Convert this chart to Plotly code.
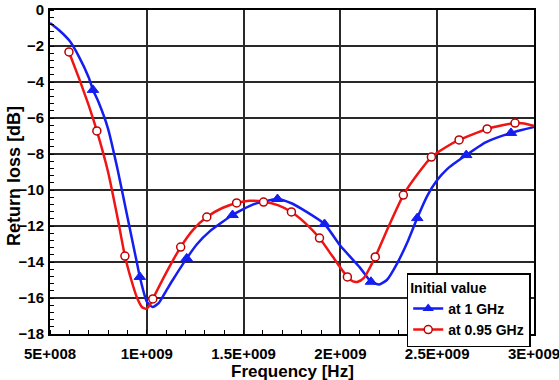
import plotly.graph_objects as go

# Curve samples (frequency in Hz, return loss in dB)
blue_freq = [0.50e9, 0.55e9, 0.60e9, 0.65e9, 0.70e9, 0.722e9, 0.75e9, 0.80e9, 0.85e9, 0.90e9,
             0.95e9, 0.964e9, 1.00e9, 1.03e9, 1.06e9, 1.10e9, 1.134e9, 1.206e9, 1.26e9,
             1.325e9, 1.443e9, 1.55e9, 1.675e9, 1.75e9, 1.80e9, 1.918e9, 2.00e9, 2.10e9,
             2.158e9, 2.20e9, 2.24e9, 2.294e9, 2.35e9, 2.397e9, 2.45e9, 2.50e9, 2.55e9,
             2.65e9, 2.75e9, 2.881e9, 3.0e9]
blue_rl = [-0.72, -1.15, -1.7, -2.6, -3.75, -4.44, -5.1, -6.6, -8.9, -11.5,
           -14.1, -14.83, -16.2, -16.5, -16.3, -15.6, -15.0, -13.8, -13.0,
           -12.3, -11.39, -10.8, -10.5, -10.75, -11.05, -11.89, -13.1, -14.3,
           -15.1, -15.25, -15.0, -14.06, -12.8, -11.56, -10.3, -9.45, -8.85,
           -8.06, -7.35, -6.83, -6.5]

red_freq = [0.598e9, 0.65e9, 0.70e9, 0.742e9, 0.80e9, 0.85e9, 0.887e9, 0.92e9, 0.95e9,
            0.975e9, 0.995e9, 1.015e9, 1.031e9, 1.10e9, 1.175e9, 1.24e9, 1.31e9, 1.39e9,
            1.464e9, 1.53e9, 1.603e9, 1.68e9, 1.747e9, 1.82e9, 1.892e9, 1.96e9, 2.036e9,
            2.065e9, 2.09e9, 2.12e9, 2.18e9, 2.25e9, 2.325e9, 2.40e9, 2.47e9, 2.54e9,
            2.613e9, 2.69e9, 2.758e9, 2.83e9, 2.902e9, 2.95e9, 3.0e9]
red_rl = [-2.33, -3.8, -5.3, -6.72, -9.0, -11.6, -13.67, -15.0, -16.0,
          -16.5, -16.6, -16.4, -16.05, -14.6, -13.17, -12.2, -11.5, -11.0,
          -10.72, -10.6, -10.65, -10.85, -11.22, -11.85, -12.67, -13.7, -14.83,
          -15.08, -15.1, -14.9, -13.72, -12.0, -10.28, -9.1, -8.17, -7.65,
          -7.22, -6.88, -6.61, -6.42, -6.28, -6.3, -6.44]

# Marker positions
blue_mk_freq = [0.722e9, 0.964e9, 1.206e9, 1.443e9, 1.675e9, 1.918e9, 2.158e9, 2.397e9, 2.65e9, 2.881e9]
blue_mk_rl = [-4.44, -14.83, -13.8, -11.39, -10.5, -11.89, -15.1, -11.56, -8.06, -6.83]

red_mk_freq = [0.598e9, 0.742e9, 0.887e9, 1.031e9, 1.175e9, 1.31e9, 1.464e9, 1.603e9, 1.747e9,
               1.892e9, 2.036e9, 2.18e9, 2.325e9, 2.47e9, 2.613e9, 2.758e9, 2.902e9]
red_mk_rl = [-2.33, -6.72, -13.67, -16.05, -13.17, -11.5, -10.72, -10.67, -11.22,
             -12.67, -14.83, -13.72, -10.28, -8.17, -7.22, -6.61, -6.28]

x_tickvals = [0.5e9, 1.0e9, 1.5e9, 2.0e9, 2.5e9, 3.0e9]
x_ticktext = ["5E+008", "1E+009", "1.5E+009", "2E+009", "2.5E+009", "3E+009"]
y_tickvals = [0, -2, -4, -6, -8, -10, -12, -14, -16, -18]

x_title = "Frequency [Hz]"
y_title = "Return loss [dB]"
series_names = ["at 1 GHz", "at 0.95 GHz"]
legend_title = "Initial value"

BLUE = "rgb(20,30,240)"
RED = "rgb(240,20,20)"
DARKRED = "rgb(190,0,0)"
FONT = "Liberation Sans, Arial, sans-serif"

fig = go.Figure()

fig.add_trace(go.Scatter(x=blue_freq, y=blue_rl, mode="lines",
                         line=dict(color=BLUE, width=2.5, shape="spline", smoothing=0.5),
                         showlegend=False, hoverinfo="skip"))
fig.add_trace(go.Scatter(x=red_freq, y=red_rl, mode="lines",
                         line=dict(color=RED, width=2.5, shape="spline", smoothing=0.5),
                         showlegend=False, hoverinfo="skip"))
fig.add_trace(go.Scatter(x=blue_mk_freq, y=blue_mk_rl, mode="markers",
                         marker=dict(symbol="triangle-up", size=10, color=BLUE,
                                     line=dict(color=BLUE, width=1)),
                         showlegend=False))
fig.add_trace(go.Scatter(x=red_mk_freq, y=red_mk_rl, mode="markers",
                         marker=dict(symbol="circle", size=8, color="white",
                                     line=dict(color=DARKRED, width=1.5)),
                         showlegend=False))
# legend entries
fig.add_trace(go.Scatter(x=[None], y=[None], mode="lines+markers", name=series_names[0],
                         line=dict(color=BLUE, width=2.5),
                         marker=dict(symbol="triangle-up", size=10, color=BLUE)))
fig.add_trace(go.Scatter(x=[None], y=[None], mode="lines+markers", name=series_names[1],
                         line=dict(color=RED, width=2.5),
                         marker=dict(symbol="circle", size=8, color="white",
                                     line=dict(color=DARKRED, width=1.5))))

grid_color = "rgb(40,40,40)"

fig.update_layout(
    width=559, height=380,
    margin=dict(l=50, r=25, t=10, b=46, autoexpand=False),
    paper_bgcolor="white", plot_bgcolor="white",
    font=dict(family=FONT, size=15, color="black"),
    showlegend=True,
    legend=dict(
        title=dict(text="<b>" + legend_title + "</b>", font=dict(size=14)),
        font=dict(family=FONT, size=14, color="black", weight="bold"),
        x=0.737, y=0.188, xanchor="left", yanchor="top",
        bgcolor="white", bordercolor="black", borderwidth=1.5,
        tracegroupgap=0, itemwidth=30,
    ),
    xaxis=dict(
        range=[0.5e9, 3.0e9],
        tickvals=x_tickvals, ticktext=x_ticktext,
        tickfont=dict(family=FONT, size=15, weight="bold"),
        ticklabelstandoff=5, ticklabeloverflow="allow",
        showgrid=True, gridcolor=grid_color, gridwidth=1.5,
        showline=True, linecolor="black", linewidth=2, mirror=True,
        ticks="", zeroline=False,
        minor=dict(tick0=0.5e9, dtick=1e8, ticks="inside", ticklen=4, tickcolor="black", showgrid=False),
    ),
    yaxis=dict(
        range=[-18, 0],
        tickvals=y_tickvals,
        tickfont=dict(family=FONT, size=15, weight="bold"),
        ticklabelstandoff=1, ticklabeloverflow="allow",
        showgrid=True, gridcolor=grid_color, gridwidth=1.5,
        showline=True, linecolor="black", linewidth=2, mirror=True,
        ticks="", zeroline=False,
        minor=dict(tick0=0, dtick=0.4, ticks="inside", ticklen=4, tickcolor="black", showgrid=False),
    ),
    annotations=[
        dict(text="<b>" + x_title + "</b>", xref="paper", yref="paper", x=0.5, y=0,
             xanchor="center", yanchor="top", yshift=-26, showarrow=False,
             font=dict(family=FONT, size=17, color="black")),
        dict(text="<b>" + y_title + "</b>", xref="paper", yref="paper", x=0, y=0.488,
             xanchor="center", yanchor="middle", xshift=-36, textangle=-90, showarrow=False,
             font=dict(family=FONT, size=18, color="black")),
    ],
)

fig.write_html("out.html")
